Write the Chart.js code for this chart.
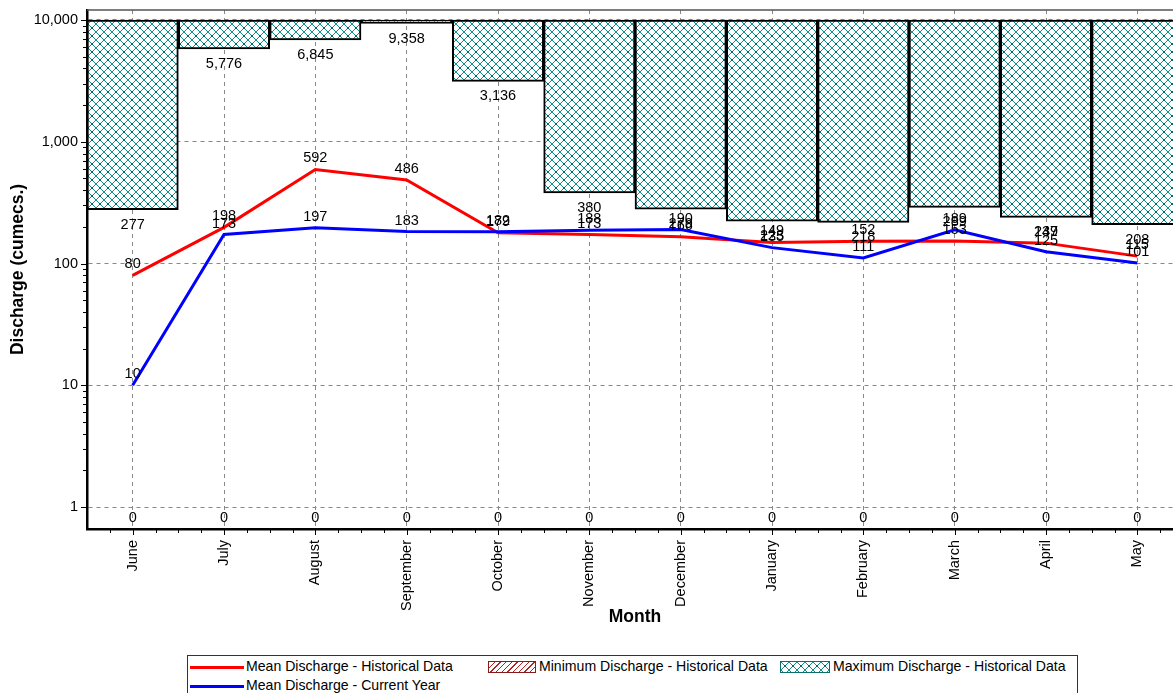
<!DOCTYPE html>
<html>
<head>
<meta charset="utf-8">
<script src="https://cdn.jsdelivr.net/npm/chart.js@4"></script>
<style>
  body { margin: 0; background: #fff; overflow: hidden; }
  #wrap { position: absolute; left: 0; top: 0; width: 1183px; height: 640px; }
  #legend {
    position: absolute; left: 187px; top: 655px; width: 889px; height: 50px;
    border: 1px solid #333; font: 14.1px "Liberation Sans", Arial, sans-serif; color: #000;
  }
  .item { position: absolute; white-space: nowrap; line-height: 16px; }
  .line { display: inline-block; width: 54px; height: 3px; vertical-align: middle; margin-right: 2px; }
  .box { display: inline-block; width: 48px; height: 12px; vertical-align: middle; margin-right: 3px; border: 1px solid #000; box-sizing: border-box; }
</style>
</head>
<body>
<div id="wrap"><canvas id="discharge"></canvas></div>
<div id="legend">
  <div class="item" style="left:2px;top:2px"><span class="line" style="background:#ff0000"></span>Mean Discharge - Historical Data</div>
  <div class="item" style="left:2px;top:21px"><span class="line" style="background:#0000ff"></span>Mean Discharge - Current Year</div>
  <div class="item" style="left:300px;top:2px"><span class="box" style="border-color:#8b1a1a;background:repeating-linear-gradient(-45deg,#fff 0 3px,#b22222 3px 4px)"></span>Minimum Discharge - Historical Data</div>
  <div class="item" style="left:592px;top:2px"><span class="box" id="maxBox" style="width:50px"></span>Maximum Discharge - Historical Data</div>
</div>
<script>
const months = ['June', 'July', 'August', 'September', 'October', 'November', 'December', 'January', 'February', 'March', 'April', 'May'];
const meanHistorical = [80, 198, 592, 486, 179, 173, 166, 149, 152, 153, 147, 115];
const meanCurrent = [10, 173, 197, 183, 182, 188, 190, 135, 111, 189, 125, 101];
const minDischarge = [0, 0, 0, 0, 0, 0, 0, 0, 0, 0, 0, 0];
const maxDischarge = [277, 5776, 6845, 9358, 3136, 380, 279, 223, 218, 289, 239, 208];
const yTicks = [1, 10, 100, 1000, 10000];
const barTop = 10000;

const FONT = '"Liberation Sans", Arial, sans-serif';

// teal cross hatch used for the maximum bars
const tile = document.createElement('canvas');
tile.width = 8; tile.height = 8;
const tctx = tile.getContext('2d');
tctx.fillStyle = '#fff';
tctx.fillRect(0, 0, 8, 8);
tctx.fillStyle = '#119090';
for (let i = 0; i < 8; i++) {
  tctx.fillRect(i, i, 1, 1);
  tctx.fillRect(7 - i, i, 1, 1);
}
tctx.fillStyle = '#006a6a';
tctx.fillRect(3, 3, 2, 2);
const hatch = tctx.createPattern(tile, 'repeat');
document.getElementById('maxBox').style.background = 'url(' + tile.toDataURL() + ')';
document.getElementById('maxBox').style.borderColor = '#0a6f6f';

const fmt = v => v.toLocaleString('en-US');

const extras = {
  id: 'extras',
  beforeDatasetsDraw(chart) {
    const {ctx, chartArea, scales: {x, y}} = chart;
    ctx.save();
    // top frame line
    ctx.strokeStyle = '#555';
    ctx.lineWidth = 1.5;
    ctx.beginPath();
    ctx.moveTo(chartArea.left, chartArea.top);
    ctx.lineTo(chartArea.right, chartArea.top);
    ctx.stroke();
    // minor ticks on the y axis
    ctx.strokeStyle = '#000';
    ctx.lineWidth = 1;
    for (let d = 0; d < 4; d++) {
      for (let k = 2; k < 10; k++) {
        const py = Math.round(y.getPixelForValue(k * Math.pow(10, d))) + 0.5;
        ctx.beginPath();
        ctx.moveTo(chartArea.left - 4, py);
        ctx.lineTo(chartArea.left, py);
        ctx.stroke();
      }
    }
    yTicks.forEach(v => {
      const py = Math.round(y.getPixelForValue(v)) + 0.5;
      ctx.beginPath();
      ctx.moveTo(chartArea.left - 6, py);
      ctx.lineTo(chartArea.left, py);
      ctx.stroke();
    });
    // ticks under the x axis
    const step = x.getPixelForValue(1) - x.getPixelForValue(0);
    for (let i = 0; i < months.length; i++) {
      for (let q = -1; q <= 2; q++) {
        const px = Math.round(x.getPixelForValue(i) + q * step / 4) + 0.5;
        ctx.beginPath();
        ctx.moveTo(px, chartArea.bottom);
        ctx.lineTo(px, chartArea.bottom + (q === 0 ? 6 : 4));
        ctx.stroke();
      }
    }
    ctx.restore();
  },
  afterDatasetsDraw(chart) {
    const {ctx, scales: {x, y}} = chart;
    ctx.save();
    ctx.font = '14.5px ' + FONT;
    ctx.fillStyle = '#000';
    ctx.textAlign = 'center';
    ctx.textBaseline = 'middle';
    maxDischarge.forEach((v, i) => ctx.fillText(fmt(v), x.getPixelForValue(i), y.getPixelForValue(v) + 15));
    minDischarge.forEach((v, i) => ctx.fillText(fmt(v), x.getPixelForValue(i), y.getPixelForValue(1) + 11));
    meanHistorical.forEach((v, i) => ctx.fillText(fmt(v), x.getPixelForValue(i), y.getPixelForValue(v) - 11));
    meanCurrent.forEach((v, i) => ctx.fillText(fmt(v), x.getPixelForValue(i), y.getPixelForValue(v) - 11));
    ctx.restore();
  }
};

new Chart('discharge', {
  type: 'bar',
  data: {
    labels: months,
    datasets: [
      {
        type: 'line',
        label: 'Mean Discharge - Historical Data',
        data: meanHistorical,
        borderColor: '#ff0000',
        borderWidth: 3,
        pointRadius: 0,
        order: 2,
      },
      {
        type: 'line',
        label: 'Mean Discharge - Current Year',
        data: meanCurrent,
        borderColor: '#0000ff',
        borderWidth: 3,
        pointRadius: 0,
        order: 1,
      },
      {
        label: 'Maximum Discharge - Historical Data',
        data: maxDischarge.map(v => [v, barTop]),
        backgroundColor: hatch,
        borderColor: '#000',
        borderWidth: 2,
        borderSkipped: false,
        barPercentage: 1,
        categoryPercentage: 1,
        order: 3,
      },
    ],
  },
  options: {
    responsive: true,
    maintainAspectRatio: false,
    animation: false,
    events: [],
    layout: { padding: { top: 10, left: 0, right: 0, bottom: 0 } },
    plugins: {
      legend: { display: false },
      tooltip: { enabled: false },
    },
    scales: {
      x: {
        offset: true,
        grid: { offset: false, color: '#888', drawTicks: false },
        border: { color: '#000', width: 2.5, dash: [4, 4] },
        ticks: {
          color: '#000',
          font: { family: FONT, size: 14.5 },
          minRotation: 90,
          maxRotation: 90,
          padding: 11,
          autoSkip: false,
        },
        title: {
          display: true,
          text: 'Month',
          color: '#000',
          font: { family: FONT, size: 17.5, weight: 'bold' },
          padding: { top: 0, bottom: 12 },
        },
        afterFit: scale => { scale.height = 111; },
      },
      y: {
        type: 'logarithmic',
        min: 0.66,
        max: 12080,
        grid: { color: '#888', drawTicks: false },
        border: { color: '#000', width: 2.5, dash: [4, 4] },
        afterBuildTicks: scale => { scale.ticks = yTicks.map(v => ({ value: v })); },
        ticks: {
          color: '#000',
          font: { family: FONT, size: 14.5 },
          padding: 9,
          callback: v => fmt(v),
        },
        title: {
          display: true,
          text: 'Discharge (cumecs.)',
          color: '#000',
          font: { family: FONT, size: 17.5, weight: 'bold' },
          padding: { top: 8, bottom: 0 },
        },
        afterFit: scale => {
          scale.width = 87;
          scale.paddingTop = 0;
          scale.paddingBottom = 0;
        },
      },
    },
  },
  plugins: [extras],
});
</script>
</body>
</html>
